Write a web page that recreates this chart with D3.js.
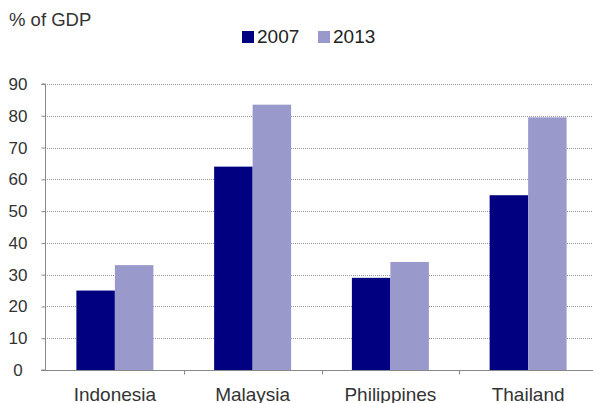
<!DOCTYPE html>
<html><head><meta charset="utf-8">
<script src="https://cdn.jsdelivr.net/npm/d3@7"></script>
<style>
html,body{margin:0;padding:0;background:#fff;}
svg{display:block;font-family:"Liberation Sans",Arial,sans-serif;}
</style></head>
<body>
<svg id="chart" width="593" height="403"></svg>
<script>
const categories = ["Indonesia", "Malaysia", "Philippines", "Thailand"];
const seriesNames = ["2007", "2013"];
const values2007 = [25, 64, 29, 55];
const values2013 = [33, 83.5, 34, 79.5];
const yTicks = [0, 10, 20, 30, 40, 50, 60, 70, 80, 90];
const colors = ["#000080", "#9999cc"];

const svg = d3.select("#chart");
const plotLeft = 45, plotRight = 593, plotTop = 84, plotBottom = 370;

const y = d3.scaleLinear().domain([0, 90]).range([plotBottom, plotTop]);
const x = d3.scaleBand().domain(categories).range([46, 597]).paddingInner(0).paddingOuter(0);
const pairW = 77;
const inner = d3.scaleBand().domain(seriesNames)
  .range([(x.bandwidth() - pairW) / 2, (x.bandwidth() + pairW) / 2]).paddingInner(0).paddingOuter(0);

// gridlines
svg.append("g").selectAll("line").data(yTicks.filter(d => d > 0)).join("line")
  .attr("x1", plotLeft).attr("x2", plotRight)
  .attr("y1", d => Math.round(y(d)) + 0.5).attr("y2", d => Math.round(y(d)) + 0.5)
  .attr("stroke", "#999").attr("stroke-width", 1).attr("stroke-dasharray", "1,1");

// bars
const data = categories.map((c, i) => ({c, vals: [values2007[i], values2013[i]]}));
const groups = svg.append("g").selectAll("g").data(data).join("g")
  .attr("transform", d => `translate(${x(d.c)},0)`);
groups.selectAll("rect").data(d => d.vals.map((v, j) => ({s: seriesNames[j], v, j}))).join("rect")
  .attr("x", d => inner(d.s)).attr("width", inner.bandwidth())
  .attr("y", d => y(d.v)).attr("height", d => y(0) - y(d.v))
  .attr("fill", d => colors[d.j]);

// y axis
const yAxis = d3.axisLeft(y).tickValues(yTicks).tickSize(4).tickPadding(14).tickFormat(d3.format("d"));
const yg = svg.append("g").attr("transform", `translate(${plotLeft + 0.5},0)`).call(yAxis);
yg.select(".domain").attr("stroke", "#888").attr("d", `M-4,${plotTop}H0V${plotBottom}H-4`);
yg.selectAll(".tick line").attr("stroke", "#888");
yg.selectAll(".tick text").attr("fill", "#333").style("font-size", "17px")
  .attr("text-anchor", "middle").attr("x", -27.5);

// x axis
const xg = svg.append("g").attr("transform", `translate(0,${plotBottom + 0.5})`);
xg.append("line").attr("x1", plotLeft - 4).attr("x2", plotRight).attr("y1", 0).attr("y2", 0).attr("stroke", "#888");
const boundaries = categories.slice(1).map(c => x(c));
xg.selectAll("line.tk").data(boundaries).join("line").attr("class", "tk")
  .attr("x1", d => Math.round(d) + 0.5).attr("x2", d => Math.round(d) + 0.5).attr("y1", 0).attr("y2", 4).attr("stroke", "#888");
xg.selectAll("text").data(categories).join("text")
  .attr("x", d => x(d) + x.bandwidth() / 2).attr("y", 30)
  .attr("text-anchor", "middle").attr("fill", "#333").style("font-size", "19px")
  .text(d => d);

// title
svg.append("text").attr("x", 9).attr("y", 26).attr("fill", "#333").style("font-size", "18.5px").text("% of GDP");

// legend
const legendX = [242, 318];
const lg = svg.append("g").selectAll("g").data(seriesNames).join("g")
  .attr("transform", (d, i) => `translate(${legendX[i]},0)`);
lg.append("rect").attr("x", 0).attr("y", 31).attr("width", 12).attr("height", 12).attr("fill", (d, i) => colors[i]);
lg.append("text").attr("x", 15).attr("y", 43).attr("fill", "#222").style("font-size", "19px").text(d => d);
</script>
</body></html>
